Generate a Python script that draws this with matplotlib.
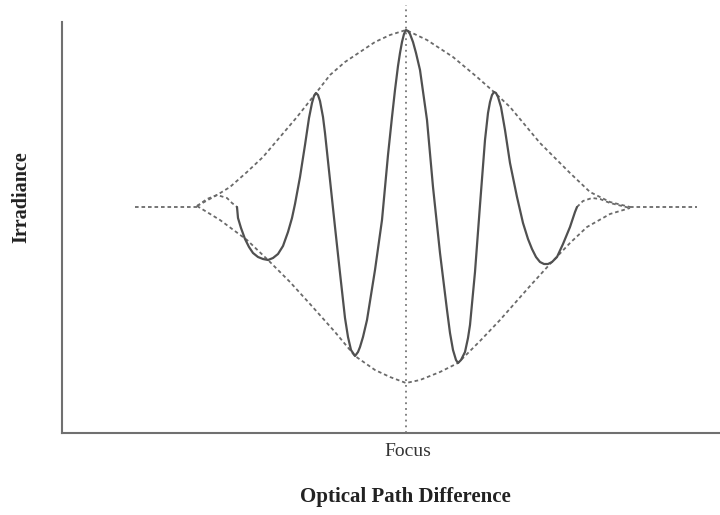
import numpy as np
import matplotlib
matplotlib.use("Agg")
import matplotlib.pyplot as plt

# optical path difference (focus = 0) and irradiance
fringe_opd = [-169, -168, -165, -161, -157, -153, -148, -143, -138, -133, -128, -123, -118, -114,
              -111, -106, -101, -97, -94, -92, -90, -88, -86, -83, -81, -76, -71, -66, -61, -58,
              -55, -51, -48, -46, -43, -39, -31, -24, -18, -14, -11, -8, -6, -4, -2, 0,
              2, 4, 7, 10, 14, 21, 27, 34, 41, 44, 47, 50, 52, 55, 59, 62, 64, 69, 74, 79,
              82, 84, 86, 88, 90, 92, 95, 99, 104, 111, 117, 122, 126, 130, 134, 138, 142,
              146, 151, 157, 164, 169, 171]
fringe_irr = [226, 215, 205, 194, 186, 180, 176, 174, 173, 175, 179, 187, 201, 215,
              229, 256, 288, 315, 330, 337, 340, 338, 332, 316, 300, 253, 206, 160, 115, 96,
              83, 77, 81, 86, 96, 113, 163, 213, 278, 316, 343, 367, 380, 391, 399, 403,
              402, 399, 391, 380, 363, 313, 246, 180, 123, 100, 83, 73, 70, 73, 81, 95, 108, 161, 228, 293,
              320, 331, 338, 341, 340, 336, 326, 303, 270, 236, 210, 194, 184, 176, 171, 169, 169,
              171, 176, 189, 206, 221, 226]

tail_left_opd = [-209, -199, -189, -179, -174, -169]
tail_left_irr = [227, 234, 238, 235, 230, 226]
tail_right_opd = [171, 177, 186, 194, 204, 224]
tail_right_irr = [226, 232, 235, 234, 230, 225]

base_left_opd = [-271, -209]
base_right_opd = [224, 291]
base_irr = [226, 226]

upper_opd = [-209, -189, -176, -159, -143, -126, -109, -90, -76, -61, -46, -31, -16, 0,
             21, 47, 71, 88, 104, 134, 164, 184, 204, 224]
upper_irr = [227, 238, 246, 261, 276, 296, 316, 340, 358, 371, 381, 391, 398, 403,
             393, 376, 356, 341, 326, 290, 260, 241, 231, 226]

lower_opd = [-209, -186, -159, -138, -116, -96, -71, -51, -31, -16, 0,
             14, 34, 52, 74, 94, 124, 144, 164, 181, 204, 224]
lower_irr = [227, 213, 193, 173, 151, 129, 101, 77, 63, 56, 50,
             53, 61, 70, 92, 113, 147, 169, 190, 206, 219, 225]

fig = plt.figure(figsize=(7.2, 5.15), dpi=100)
ax = fig.add_axes([62 / 720, 82 / 515, 658 / 720, 428 / 515])

dash = (0, (2.0, 1.6))
env_kw = dict(color="#6a6a6a", lw=1.3, linestyle=dash)
ax.plot(upper_opd, upper_irr, **env_kw)
ax.plot(lower_opd, lower_irr, **env_kw)
ax.plot(base_left_opd, base_irr, **env_kw)
ax.plot(base_right_opd, base_irr, **env_kw)
ax.plot(tail_left_opd, tail_left_irr, **env_kw)
ax.plot(tail_right_opd, tail_right_irr, **env_kw)

ax.plot(fringe_opd, fringe_irr, color="#505050", lw=1.6,
        solid_joinstyle="round", solid_capstyle="round")

ax.axvline(0, ymin=0, ymax=1, color="#777777", lw=1.3, linestyle=(0, (1, 2.2)))

ax.set_xlim(-344, 314)
ax.set_ylim(0, 428)
for s in ["top", "right"]:
    ax.spines[s].set_visible(False)
for s in ["left", "bottom"]:
    ax.spines[s].set_color("#707070")
    ax.spines[s].set_linewidth(1.5)
ax.spines["left"].set_bounds(0, 411)
ax.set_xticks([])
ax.set_yticks([])

serif = ["Liberation Serif", "DejaVu Serif"]
fig.text(21 / 720, 1 - 197 / 515, "Irradiance", rotation=90, ha="center", va="center",
         family=serif, fontweight="bold", fontsize=14.5, color="#222222")
fig.text(408 / 720, 1 - 451 / 515, "Focus", ha="center", va="center",
         family=serif, fontsize=14, color="#333333")
fig.text(405 / 720, 1 - 497 / 515, "Optical Path Difference", ha="center", va="center",
         family=serif, fontweight="bold", fontsize=15, color="#222222")

fig.savefig("out.png", dpi=100)
